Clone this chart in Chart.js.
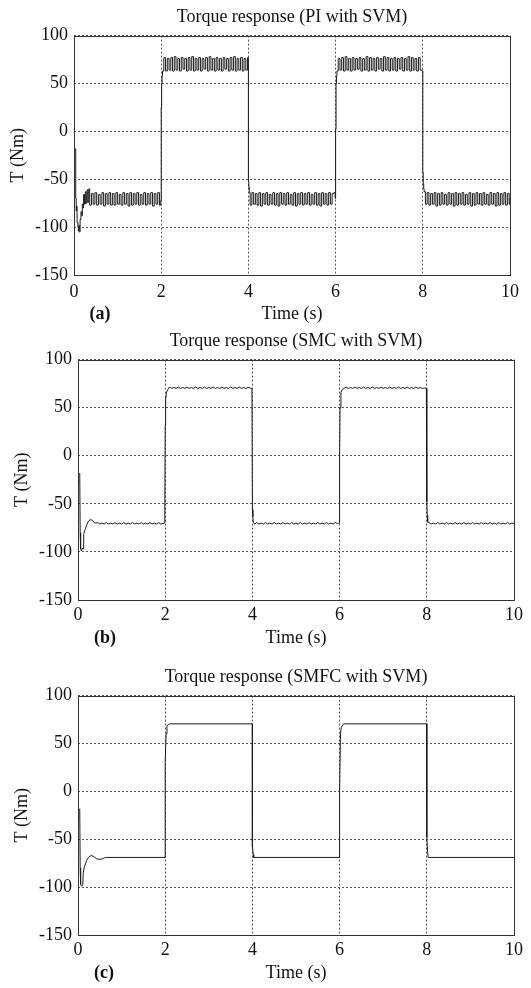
<!DOCTYPE html>
<html>
<head>
<meta charset="utf-8">
<script src="https://cdn.jsdelivr.net/npm/chart.js@4"></script>
<style>
  html, body { margin: 0; padding: 0; background: #fff; }
  canvas { display: block; }
</style>
</head>
<body>
<canvas id="chartA" width="531" height="330"></canvas>
<canvas id="chartB" width="531" height="330"></canvas>
<canvas id="chartC" width="531" height="328"></canvas>
<script>
// axis ticks
const timeTicks = [0, 2, 4, 6, 8, 10];
const torqueTicks = [-150, -100, -50, 0, 50, 100];

// PI with SVM: transients as [t, T], steady ripple as T values sampled every piStep seconds
const piStep = 0.04;
const piEdges = [
  [0.03, -18], [0.04, -70], [0.05, -83], [0.06, -78], [0.07, -95], [0.09, -100], [0.1, -104],
  [0.11, -98], [0.12, -105], [0.14, -92], [0.16, -84], [0.18, -88], [0.19, -76], [0.21, -80],
  [0.22, -66], [0.24, -76], [0.26, -63], [0.28, -75], [0.3, -61], [0.32, -74], [0.34, -60],
  [1.99, -72], [2.0, 25], [2.01, 50], [2.02, 58], [2.03, 63],
  [4.0, -52], [4.01, -58], [4.02, -64],
  [5.99, -70], [6.0, 2], [6.01, 50], [6.02, 58], [6.03, 63],
  [8.0, -43], [8.01, -55], [8.02, -60], [8.03, -63],
  [10, -70]
];
const piRippleStart = [0.36, 2.06, 4.04, 6.06, 8.06];
const piRipple = [
  [-77, -65, -76, -64, -77, -66, -76, -64, -78, -65, -76,
   -64, -77, -65, -77, -64, -76, -66, -77, -64, -76, -65, -78,
   -64, -77, -65, -76, -64, -77, -66, -76, -64, -77, -65, -76,
   -64, -78, -65, -76, -64, -77],
  [77, 63, 76, 64, 77, 63, 78, 64, 76, 63, 77, 65,
   76, 63, 77, 64, 78, 63, 76, 64, 77, 63, 76, 65,
   77, 63, 78, 64, 76, 63, 77, 64, 76, 63, 77, 65,
   76, 63, 77, 64, 78, 63, 76, 64, 77, 63, 76, 64,
   77],
  [-77, -64, -76, -65, -77, -64, -78, -65, -76, -64, -77, -66,
   -76, -64, -77, -65, -78, -64, -76, -65, -77, -64, -76, -66,
   -77, -64, -78, -65, -76, -64, -77, -65, -76, -64, -77, -66,
   -76, -64, -77, -65, -78, -64, -76, -65, -77, -64, -76, -65,
   -64],
  [76, 64, 77, 63, 78, 64, 76, 63, 77, 64, 76, 65,
   77, 63, 76, 64, 78, 63, 77, 64, 76, 63, 77, 65,
   76, 63, 78, 64, 77, 63, 76, 64, 77, 63, 76, 65,
   77, 63, 76, 64, 78, 63, 77, 64, 76, 63, 77, 64,
   63],
  [-76, -64, -77, -65, -76, -64, -78, -65, -77, -64, -76, -66,
   -77, -64, -76, -65, -78, -64, -77, -65, -76, -64, -77, -66,
   -76, -64, -78, -65, -77, -64, -76, -65, -77, -64, -76, -66,
   -77, -64, -76, -65, -78, -64, -77, -65, -76, -64, -77, -65,
   -76]
];

// SMC with SVM
const smcStep = 0.05;
const smcEdges = [
  [0.04, -18], [0.05, -80], [0.06, -97], [0.08, -99], [0.1, -96], [0.12, -97], [0.13, -82],
  [0.15, -78], [0.17, -76], [0.2, -72], [0.24, -68], [0.28, -66.5], [0.33, -67], [0.37, -69.5], [0.41, -70],
  [1.99, -70], [2.0, 32], [2.01, 58], [2.03, 66], [2.06, 69],
  [3.99, 70], [4.0, -56], [4.01, -63], [4.02, -69],
  [5.99, -70], [6.0, 0], [6.01, 50], [6.03, 66], [6.06, 69],
  [7.99, 70], [8.0, -48], [8.01, -62], [8.02, -69]
];
const smcRippleStart = [0.45, 2.1, 4.05, 6.1, 8.05];
const smcRipple = [
  [-69.5, -71, -70, -71, -69.5, -71, -70, -71, -69.5, -71,
   -70, -71, -69.5, -71, -70, -71, -69.5, -71, -70, -71,
   -69.5, -71, -70, -71, -69.5, -71, -70, -71, -69.5, -71, -70.5],
  [71.5, 70, 71, 70, 71.5, 70, 71, 70, 71.5, 70,
   71, 70, 71.5, 70, 71, 70, 71.5, 70, 71, 70,
   71.5, 70, 71, 70, 71.5, 70, 71, 70, 71.5, 70,
   71, 70, 71.5, 70, 71, 70, 71, 70.5],
  [-71, -69.5, -71, -70, -71, -69.5, -71, -70, -71, -69.5,
   -71, -70, -71, -69.5, -71, -70, -71, -69.5, -71, -70,
   -71, -69.5, -71, -70, -71, -69.5, -71, -70, -71, -69.5,
   -71, -70, -71, -69.5, -71, -70, -71, -69.5, -70.5],
  [70, 71.5, 70, 71, 70, 71.5, 70, 71, 70, 71.5,
   70, 71, 70, 71.5, 70, 71, 70, 71.5, 70, 71,
   70, 71.5, 70, 71, 70, 71.5, 70, 71, 70, 71.5,
   70, 71, 70, 71.5, 70, 71, 70, 70.5],
  [-69.5, -71, -70, -71, -69.5, -71, -70, -71, -69.5, -71,
   -70, -71, -69.5, -71, -70, -71, -69.5, -71, -70, -71,
   -69.5, -71, -70, -71, -69.5, -71, -70, -71, -69.5, -71,
   -70, -71, -69.5, -71, -70, -71, -69.5, -71, -70, -70.5]
];

// SMFC with SVM (no ripple)
const smfcEdges = [
  [0.04, -18], [0.05, -80], [0.06, -97], [0.08, -99], [0.1, -98], [0.11, -97], [0.12, -85],
  [0.14, -80], [0.17, -76], [0.2, -72], [0.24, -69], [0.3, -67], [0.36, -68], [0.43, -70.5],
  [0.5, -71], [0.56, -70.5], [0.6, -69.5], [0.65, -69],
  [1.999, -69], [2.0, 30], [2.02, 60], [2.04, 68], [2.08, 70], [2.12, 70.5],
  [3.999, 70.5], [4.0, -58], [4.02, -66], [4.03, -69],
  [5.999, -69], [6.0, 0], [6.02, 60], [6.04, 67], [6.08, 70], [6.12, 70.5],
  [7.999, 70.5], [8.0, -48], [8.02, -64], [8.03, -69],
  [10, -69]
];

function buildSeries(edges, starts, blocks, step) {
  const pts = edges.map((p) => ({ x: p[0], y: p[1] }));
  blocks.forEach((vals, i) => {
    vals.forEach((v, k) => {
      pts.push({ x: +(starts[i] + k * step).toFixed(3), y: v });
    });
  });
  return pts.sort((a, b) => a.x - b.x);
}

const serif = "'Liberation Serif', 'Times New Roman', serif";

// frame around plot area + panel tag like (a)
const framePlugin = {
  id: "frame",
  afterDraw(chart, args, opts) {
    const { ctx, chartArea } = chart;
    ctx.save();
    ctx.strokeStyle = "#333";
    ctx.lineWidth = 1;
    ctx.strokeRect(
      Math.round(chartArea.left) + 0.5,
      Math.round(chartArea.top) + 0.5,
      Math.round(chartArea.right - chartArea.left),
      Math.round(chartArea.bottom - chartArea.top)
    );
    ctx.fillStyle = "#111";
    ctx.font = "bold 18px " + serif;
    ctx.textAlign = "center";
    ctx.textBaseline = "middle";
    ctx.fillText(opts.tag, opts.tagX, opts.tagY);
    ctx.restore();
  },
};

function makeChart(id, cfg) {
  new Chart(document.getElementById(id), {
    type: "line",
    data: {
      datasets: [
        {
          data: cfg.data,
          borderColor: "#1a1a1a",
          borderWidth: 1,
          pointRadius: 0,
          tension: 0,
          stepped: cfg.stepped || false,
          fill: false,
        },
      ],
    },
    options: {
      responsive: false,
      animation: false,
      events: [],
      layout: { padding: { left: 0, right: cfg.padRight, top: 0, bottom: 0 } },
      plugins: {
        legend: { display: false },
        tooltip: { enabled: false },
        title: {
          display: true,
          text: cfg.title,
          fullSize: false,
          color: "#111",
          font: { family: serif, size: 18, weight: "normal" },
          padding: { top: cfg.titleTop, bottom: cfg.titleBottom },
        },
        frame: { tag: cfg.tag, tagX: cfg.tagX, tagY: cfg.tagY },
      },
      scales: {
        x: {
          type: "linear",
          min: 0,
          max: 10,
          afterBuildTicks: (s) => { s.ticks = timeTicks.map((v) => ({ value: v })); },
          afterFit: (s) => { s.height = cfg.xHeight; },
          ticks: {
            color: "#111",
            padding: cfg.xTickPad,
            maxRotation: 0,
            font: { family: serif, size: 18 },
          },
          grid: { color: "#555", lineWidth: 1, drawTicks: false },
          border: { display: false, dash: [2, 2] },
          title: {
            display: true,
            text: "Time (s)",
            color: "#111",
            font: { family: serif, size: 18 },
            padding: { top: 0, bottom: cfg.xTitlePad },
          },
        },
        y: {
          min: -150,
          max: 100,
          afterBuildTicks: (s) => { s.ticks = torqueTicks.map((v) => ({ value: v })); },
          afterFit: (s) => { s.width = cfg.yWidth; },
          ticks: {
            color: "#111",
            padding: 6,
            font: { family: serif, size: 18 },
          },
          grid: { color: "#555", lineWidth: 1, drawTicks: false },
          border: { display: false, dash: [2, 2] },
          title: {
            display: true,
            text: "T (Nm)",
            color: "#111",
            font: { family: serif, size: 18 },
            padding: { top: cfg.yTitlePad, bottom: 0 },
          },
        },
      },
    },
    plugins: [framePlugin],
  });
}

makeChart("chartA", {
  data: buildSeries(piEdges, piRippleStart, piRipple, piStep),
  stepped: true,
  title: "Torque response (PI with SVM)",
  tag: "(a)", tagX: 100, tagY: 314,
  padRight: 21, titleTop: 6, titleBottom: 8,
  xHeight: 55, xTickPad: 6, xTitlePad: 5,
  yWidth: 74, yTitlePad: 7,
});

makeChart("chartB", {
  data: buildSeries(smcEdges, smcRippleStart, smcRipple, smcStep),
  title: "Torque response (SMC with SVM)",
  tag: "(b)", tagX: 105, tagY: 308,
  padRight: 17, titleTop: 0, titleBottom: 8,
  xHeight: 60, xTickPad: 4, xTitlePad: 11,
  yWidth: 78, yTitlePad: 11,
});

makeChart("chartC", {
  data: buildSeries(smfcEdges, [], [], 0),
  title: "Torque response (SMFC with SVM)",
  tag: "(c)", tagX: 104, tagY: 313,
  padRight: 17, titleTop: 6, titleBottom: 8,
  xHeight: 53, xTickPad: 4, xTitlePad: 4,
  yWidth: 78, yTitlePad: 11,
});
</script>
</body>
</html>
